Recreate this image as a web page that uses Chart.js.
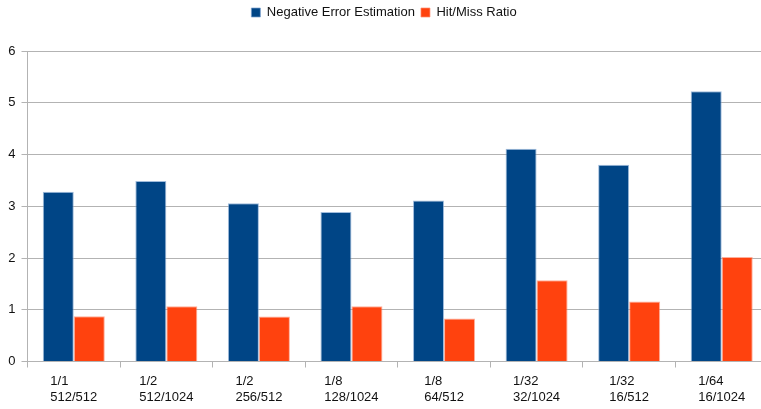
<!DOCTYPE html>
<html>
<head>
<meta charset="utf-8">
<script src="https://cdn.jsdelivr.net/npm/chart.js@4/dist/chart.umd.min.js"></script>
<style>
  html, body { margin: 0; padding: 0; background: #fff; overflow: hidden; }
  #wrap { width: 780px; height: 409px; }
</style>
</head>
<body>
<div id="wrap"><canvas id="c" width="780" height="409"></canvas></div>
<script>
// Cache configuration: ratio on the first line, sizes on the second
const ratioLabels = ['1/1', '1/2', '1/2', '1/8', '1/8', '1/32', '1/32', '1/64'];
const sizeLabels = ['512/512', '512/1024', '256/512', '128/1024', '64/512', '32/1024', '16/512', '16/1024'];

const negativeErrorEstimation = [3.28, 3.49, 3.06, 2.89, 3.11, 4.11, 3.80, 5.22];
const hitMissRatio = [0.875, 1.07, 0.87, 1.07, 0.83, 1.57, 1.16, 2.02];

const yTicks = [0, 1, 2, 3, 4, 5, 6];

const FONT = 'Liberation Sans, Arial, sans-serif';
const GRID = '#b3b3b3';
const LEGEND_GAP = 22; // extra space between legend and plot

// Two-line category labels: block centred under the category, lines left-aligned
const categoryLabelPlugin = {
  id: 'categoryLabels',
  afterDraw(chart) {
    const x = chart.scales.x;
    const ctx = chart.ctx;
    ctx.save();
    ctx.font = '13px ' + FONT;
    ctx.fillStyle = '#111';
    ctx.textAlign = 'left';
    ctx.textBaseline = 'middle';
    ratioLabels.forEach((top, i) => {
      const lines = [top, sizeLabels[i]];
      const w = Math.max(...lines.map(l => ctx.measureText(l).width));
      const cx = x.getPixelForValue(i);
      const left = cx - w / 2;
      ctx.fillText(lines[0], left, x.top + 19.5);
      ctx.fillText(lines[1], left, x.top + 36);
    });
    ctx.restore();
  }
};

// Leaves extra room below the legend box
const legendGapPlugin = {
  id: 'legendGap',
  beforeUpdate(chart) {
    const lg = chart.legend;
    if (lg && !lg._gapPatched) {
      const fit = lg.fit.bind(lg);
      lg.fit = function () { fit(); this.height += LEGEND_GAP; };
      lg._gapPatched = true;
    }
  }
};

new Chart(document.getElementById('c'), {
  type: 'bar',
  data: {
    labels: ratioLabels.map((r, i) => [r, sizeLabels[i]]),
    datasets: [
      {
        label: 'Negative Error Estimation',
        data: negativeErrorEstimation,
        backgroundColor: '#004586',
        borderColor: 'rgba(120,160,205,0.7)',
        borderWidth: 1,
        borderSkipped: 'bottom'
      },
      {
        label: 'Hit/Miss Ratio',
        data: hitMissRatio,
        backgroundColor: '#ff420e',
        borderColor: 'rgba(255,140,110,0.7)',
        borderWidth: 1,
        borderSkipped: 'bottom'
      }
    ]
  },
  options: {
    responsive: false,
    animation: false,
    devicePixelRatio: 1,
    layout: { padding: { left: 0, right: 12, top: 0, bottom: 0 } },
    datasets: {
      bar: { barPercentage: 1, categoryPercentage: 0.67 }
    },
    plugins: {
      tooltip: { enabled: false },
      legend: {
        position: 'top',
        labels: {
          font: { family: FONT, size: 13 },
          color: '#111',
          boxWidth: 9,
          boxHeight: 9,
          padding: 6
        }
      }
    },
    scales: {
      x: {
        offset: true,
        grid: {
          offset: true,
          drawOnChartArea: false,
          drawTicks: true,
          tickLength: 6,
          color: GRID
        },
        border: { display: true, color: GRID },
        ticks: { display: false },
        afterFit(scale) { scale.height = 47.5; }
      },
      y: {
        min: 0,
        max: 6,
        afterBuildTicks(scale) { scale.ticks = yTicks.map(v => ({ value: v })); },
        grid: { color: GRID, tickLength: 6, drawTicks: true },
        border: { display: true, color: GRID },
        ticks: {
          font: { family: FONT, size: 13 },
          color: '#111',
          padding: 6
        },
        afterFit(scale) { scale.width = 27.5; }
      }
    }
  },
  plugins: [legendGapPlugin, categoryLabelPlugin]
});
</script>
</body>
</html>
